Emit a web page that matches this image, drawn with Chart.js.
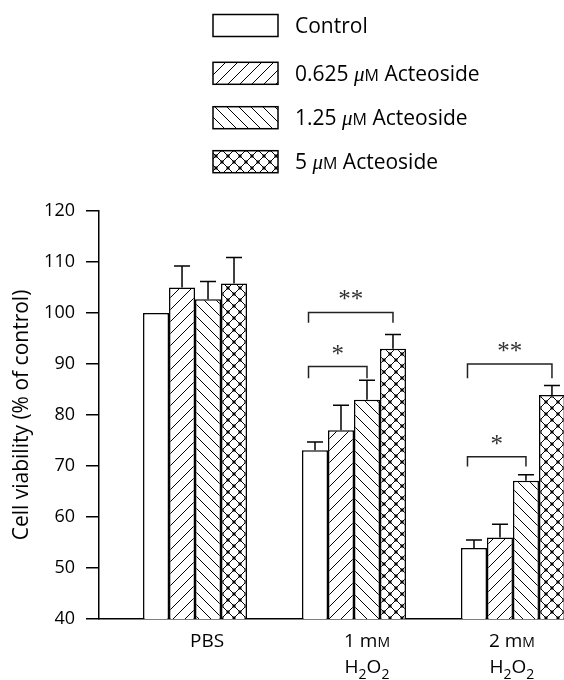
<!DOCTYPE html>
<html lang="en">
<head>
<meta charset="UTF-8">
<title>Cell viability</title>
<script src="https://cdn.jsdelivr.net/npm/chart.js@4.4.0/dist/chart.umd.min.js"></script>
<style>
  html, body { margin: 0; padding: 0; background: #fff; }
</style>
</head>
<body>
<canvas id="viability" width="564" height="680"></canvas>
<script>
// --- data ---
const groups = [0, 1, 2];
const groupLabels = [['PBS'], ['1 mM', 'H2O2'], ['2 mM', 'H2O2']];
const seriesLabels = ['Control', '0.625 μM Acteoside', '1.25 μM Acteoside', '5 μM Acteoside'];

const controlVals = [100, 73.1, 53.9];
const act0625Vals = [105, 77.0, 56.0];
const act125Vals = [102.7, 83.0, 67.1];
const act5Vals = [105.8, 93.0, 83.9];

const controlErr = [0, 1.6, 1.6];
const act0625Err = [4.2, 4.9, 2.6];
const act125Err = [3.5, 3.8, 1.2];
const act5Err = [5.1, 2.8, 1.9];

const yTicks = [40, 50, 60, 70, 80, 90, 100, 110, 120];
const yTitle = 'Cell viability (% of control)';

// significance brackets: group, from series, to series, top value, leg end value, mark
const brackets = [
  { group: 1, from: 0, to: 3, y: 100.1, low: 98.1, mark: '**' },
  { group: 1, from: 0, to: 2, y: 89.5, low: 87.2, mark: '*' },
  { group: 2, from: 0, to: 3, y: 90.0, low: 87.2, mark: '**' },
  { group: 2, from: 0, to: 2, y: 71.8, low: 69.9, mark: '*' }
];

const seriesVals = [controlVals, act0625Vals, act125Vals, act5Vals];
const seriesErr = [controlErr, act0625Err, act125Err, act5Err];

const FONT = '"Open Sans", "Noto Sans", sans-serif';
const ctx = document.getElementById('viability').getContext('2d');

// hatch fills
function makePattern(kind) {
  const w = 12, h = 12;
  const c = document.createElement('canvas');
  c.width = w; c.height = h;
  const g = c.getContext('2d');
  g.fillStyle = '#fff';
  g.fillRect(0, 0, w, h);
  g.strokeStyle = '#000';
  g.lineWidth = 1;
  const line = (x1, y1, x2, y2) => { g.beginPath(); g.moveTo(x1, y1); g.lineTo(x2, y2); g.stroke(); };
  if (kind === 'fwd' || kind === 'cross') line(-1, h + 1, w + 1, -1);
  if (kind === 'back' || kind === 'cross') line(-1, -1, w + 1, h + 1);
  if (kind === 'cross') {
    g.fillStyle = '#000';
    [[0, 0], [w, 0], [0, h], [w, h], [w / 2, h / 2]].forEach(([x, y]) => g.fillRect(x - 1.5, y - 1.5, 3, 3));
  }
  return ctx.createPattern(c, 'repeat');
}
const fills = ['#fff', makePattern('fwd'), makePattern('back'), makePattern('cross')];

// text with italic mu, small-cap M and subscript digits
function runsFor(str, size) {
  const runs = [];
  for (let i = 0; i < str.length; i++) {
    const c = str[i], p = str[i - 1];
    let run;
    if (c === 'μ') run = { t: c, f: `italic ${size}px "Liberation Serif"`, dy: 0 };
    else if (c === 'M' && (p === 'm' || p === 'μ')) run = { t: c, f: `${Math.round(size * 0.76)}px ${FONT}`, dy: 0 };
    else if (/\d/.test(c) && (p === 'H' || p === 'O')) run = { t: c, f: `${Math.round(size * 0.74)}px ${FONT}`, dy: size * 0.32 };
    else run = { t: c, f: `${size}px ${FONT}`, dy: 0 };
    const last = runs[runs.length - 1];
    if (last && last.f === run.f && last.dy === run.dy) last.t += run.t;
    else runs.push(run);
  }
  return runs;
}
function drawRich(c, str, size, x, y, align) {
  const runs = runsFor(str, size);
  let total = 0;
  runs.forEach(r => { c.font = r.f; r.w = c.measureText(r.t).width; total += r.w; });
  let cx = align === 'center' ? x - total / 2 : x;
  c.textBaseline = 'alphabetic';
  c.textAlign = 'left';
  runs.forEach(r => { c.font = r.f; c.fillText(r.t, cx, y + r.dy); cx += r.w; });
}

const extras = {
  id: 'extras',
  afterDatasetsDraw(chart) {
    const c = chart.ctx;
    const ys = chart.scales.y;
    c.save();
    c.strokeStyle = '#000';
    c.lineWidth = 1.5;
    // error bars (upper only)
    seriesErr.forEach((errs, i) => {
      const meta = chart.getDatasetMeta(i);
      errs.forEach((e, j) => {
        if (!e) return;
        const bar = meta.data[j];
        const top = ys.getPixelForValue(seriesVals[i][j] + e);
        c.beginPath();
        c.moveTo(bar.x, bar.y);
        c.lineTo(bar.x, top);
        c.moveTo(bar.x - 8, top);
        c.lineTo(bar.x + 8, top);
        c.stroke();
      });
    });
    // significance brackets
    c.strokeStyle = '#222';
    c.fillStyle = '#333';
    brackets.forEach(b => {
      const a = chart.getDatasetMeta(b.from).data[b.group];
      const z = chart.getDatasetMeta(b.to).data[b.group];
      const x1 = a.x - a.width * 0.25, x2 = z.x;
      const y = ys.getPixelForValue(b.y), yl = ys.getPixelForValue(b.low);
      c.beginPath();
      c.moveTo(x1, yl); c.lineTo(x1, y); c.lineTo(x2, y); c.lineTo(x2, yl);
      c.stroke();
      c.font = '25px "Liberation Serif"';
      c.textAlign = 'center';
      c.textBaseline = 'alphabetic';
      c.fillText(b.mark, (x1 + x2) / 2, y - 5);
    });
    c.restore();
  },
  afterDraw(chart) {
    const c = chart.ctx;
    const xs = chart.scales.x;
    c.save();
    c.fillStyle = '#000';
    // x category labels
    const shift = [12, 13, -1];
    groupLabels.forEach((lines, i) => {
      const x = xs.getPixelForValue(groups[i]) + shift[i];
      lines.forEach((ln, k) => drawRich(c, ln, 19, x, 647 + k * 26, 'center'));
    });
    // legend
    const rowY = [25.5, 73.3, 117.7, 161.7];
    seriesLabels.forEach((lab, i) => {
      const y = rowY[i];
      c.fillStyle = fills[i];
      c.fillRect(213, y - 11, 65, 22);
      c.strokeStyle = '#000';
      c.lineWidth = 1.5;
      c.strokeRect(213, y - 11, 65, 22);
      c.fillStyle = '#000';
      drawRich(c, lab, 21, 295, y + 7.5, 'left');
    });
    c.restore();
  }
};

const datasets = seriesLabels.map((label, i) => ({
  label,
  data: groups.map((g, j) => ({ x: g, y: seriesVals[i][j] })),
  backgroundColor: fills[i],
  borderColor: '#000',
  borderWidth: 1.5,
  barPercentage: 1,
  categoryPercentage: 0.654
}));

new Chart(ctx, {
  type: 'bar',
  data: { datasets },
  plugins: [extras],
  options: {
    responsive: false,
    animation: false,
    layout: { padding: { top: 211, left: 0, right: 0, bottom: 0 } },
    plugins: { legend: { display: false }, tooltip: { enabled: false } },
    scales: {
      x: {
        type: 'linear',
        min: -0.604,
        max: 2.321,
        offset: false,
        afterBuildTicks: s => { s.ticks = groups.map(v => ({ value: v })); },
        afterFit: s => { s.height = 61; },
        grid: { display: false },
        ticks: { display: false },
        border: { display: true, color: '#000', width: 1.5 }
      },
      y: {
        min: 40,
        max: 120,
        afterBuildTicks: s => { s.ticks = yTicks.map(v => ({ value: v })); },
        afterFit: s => { s.width = 99; },
        ticks: { color: '#000', padding: 11, font: { family: FONT, size: 18 } },
        grid: { drawOnChartArea: false, drawTicks: true, tickLength: 13, color: '#000', lineWidth: 1.5 },
        border: { display: true, color: '#000', width: 1.5 },
        title: {
          display: true,
          text: yTitle,
          color: '#000',
          font: { family: FONT, size: 21 },
          padding: { top: 9, bottom: 0 }
        }
      }
    }
  }
});
</script>
</body>
</html>
